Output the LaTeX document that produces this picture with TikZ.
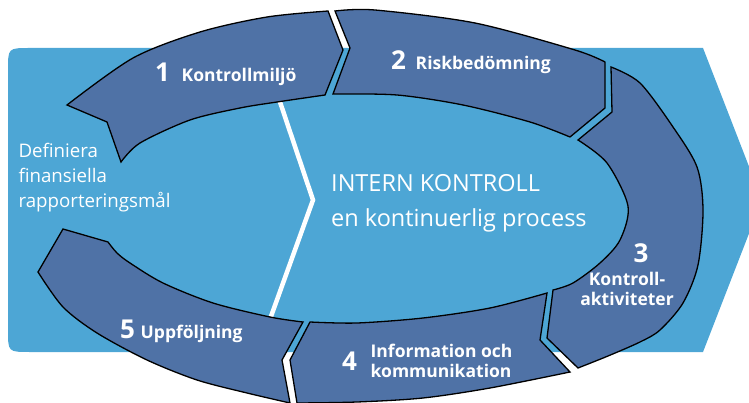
\documentclass[tikz,border=0pt]{standalone}
\usepackage{fontspec}
\setmainfont{Open Sans}
\usetikzlibrary{positioning}

\definecolor{bgblue}{RGB}{77,166,213}
\definecolor{segblue}{RGB}{79,114,166}

\tikzset{
  seg/.style={fill=segblue, draw=black, line width=1.3pt, line join=miter},
  num/.style={text=white, inner sep=0pt, anchor=base west,
    font=\bfseries\fontsize{26}{26}\selectfont},
  steptext/.style={text=white, inner sep=0pt, anchor=base west, align=left,
    font=\bfseries\fontsize{17.5}{19.5}\selectfont},
  plaintext/.style={text=white, inner sep=0pt, anchor=base west, align=left,
    font=\fontsize{18.7}{25}\selectfont}
}

\begin{document}
\begin{tikzpicture}[x=1pt, y=-1pt]
      \useasboundingbox (0,0) rectangle (749,403);
      \clip (0,0) rectangle (749,403);

      % background arrow
      \fill[bgblue] (30,48) -- (703,48) -- (762,200) -- (703,352) -- (30,352)
        .. controls (8,352) .. (8,330) -- (8,70) .. controls (8,48) .. (30,48) -- cycle;

      % chevron in the middle
      \draw[white, line width=4.5pt, line join=miter] (278,96) -- (313,200) -- (269,322);

      % 1 Kontrollmiljö
      \draw[seg] (107,122) -- (67,105)
        -- plot[smooth] coordinates {(67,105) (133,58) (200,32) (267,17) (328,11)}
        -- (343,50) -- (325,95)
        -- plot[smooth] coordinates {(325,95) (277,102) (240,108) (190,120) (140,143) (121,162)}
        -- cycle;

      % 2 Riskbedömning
      \draw[seg] (350,48) -- (335,11)
        -- plot[smooth] coordinates {(335,11) (375,10) (475,23) (575,50) (605,62)}
        -- (605,108) -- (570,137)
        -- plot[smooth] coordinates {(570,137) (530,122) (463,105) (397,95) (333,94)}
        -- cycle;

      % 3 Kontrollaktiviteter
      \draw[seg] (612,112) -- (611,67)
        -- plot[smooth] coordinates {(611,67) (640,83) (673,127) (697,167) (703,210) (698,265) (683,303) (660,330) (640,342) (608,356) (578,368)}
        -- (547,338) -- (553,290)
        -- plot[smooth] coordinates {(553,290) (573,283) (600,263) (620,240) (628,206) (607,163) (578,140)}
        -- cycle;

      % 4 Information och kommunikation
      \draw[seg] (540,340) -- (570,372)
        -- plot[smooth] coordinates {(570,372) (490,388) (423,398) (357,402) (297,403)}
        -- (290,360) -- (310,322)
        -- plot[smooth] coordinates {(310,322) (357,323) (423,318) (490,308) (547,293)}
        -- cycle;

      % 5 Uppföljning
      \draw[seg] (282,360) -- (290,403)
        -- plot[smooth] coordinates {(290,403) (247,393) (197,380) (147,360) (97,333) (63,307) (38,272)}
        -- (63,229) -- (108,242)
        -- plot[smooth] coordinates {(108,242) (117,253) (130,263) (163,283) (213,303) (270,317) (303,322)}
        -- cycle;

      % labels (a multi-line node sits on its last line)
      \node[num] (num1) at (155,82) {1};
      \node[steptext] (step1) at (181.5,82) {Kontrollmiljö};
      \node[num] (num2) at (391,70) {2};
      \node[steptext] (step2) at (415.5,70) {Riskbedömning};
      \node[num, anchor=base] (num3) at (641,262) {3};
      \node[steptext, anchor=base, align=center] (step3) at (627,305) {Kontroll-\\aktiviteter};
      \node[num] (num4) at (342,370) {4};
      \node[steptext] (step4) at (370.5,377) {Information och\\kommunikation};
      \node[num] (num5) at (120,338) {5};
      \node[steptext] (step5) at (140.5,338) {Uppföljning};

      \node[plaintext] (goal) at (18.3,208) {Definiera\\finansiella\\rapporteringsmål};
      \node[plaintext, font=\fontsize{23.5}{35}\selectfont] (title) at (331,227)
        {INTERN KONTROLL\\en kontinuerlig process};

    \end{tikzpicture}
\end{document}
